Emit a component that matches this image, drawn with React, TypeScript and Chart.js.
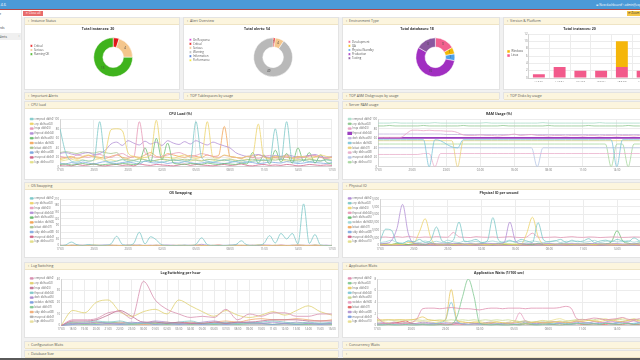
import React, { useEffect, useRef } from "react";
import { Chart, registerables } from "chart.js";

Chart.register(...registerables);
Chart.defaults.font.family = "'Open Sans', 'DejaVu Sans', sans-serif";
Chart.defaults.font.size = 2.8;
Chart.defaults.color = "#666";

// ---------- top row data ----------
const instanceLabels = ["Critical", "Serious", "Running OK"];
const instanceValues = [1, 4, 15];
const alertLabels = ["On Response", "Critical", "Serious", "Warning", "Information", "Performance"];
const alertValues = [0, 1, 4, 49, 0, 0];
const envLabels = ["Development", "QA", "Physical Standby", "Production", "Testing"];
const envValues = [3, 1, 1, 10, 3];
const versionLabels = ["11.2.0.1", "11.2.0.4", "12.1.0.2", "12.2.0.1", "18.0.0.0", "19.0.0.0"];
const versionLinux = [1, 3, 2, 2, 3, 2];
const versionWindows = [0, 0, 0, 0, 7, 0];

// ---------- time axes ----------
const halfHours = [
  "17:00","17:30","18:00","18:30","19:00","19:30","20:00","20:30","21:00","21:30",
  "22:00","22:30","23:00","23:30","00:00","00:30","01:00","01:30","02:00","02:30",
  "03:00","03:30","04:00","04:30","05:00","05:30","06:00","06:30","07:00","07:30",
  "08:00","08:30","09:00","09:30","10:00","10:30","11:00","11:30","12:00","12:30",
  "13:00","13:30","14:00","14:30","15:00","15:30","16:00","16:30","17:00",
];
const hours = [
  "17:00","18:00","19:00","20:00","21:00","22:00","23:00","00:00","01:00","02:00","03:00","04:00",
  "05:00","06:00","07:00","08:00","09:00","10:00","11:00","12:00","13:00","14:00","15:00","16:00",
];
const dbNames = ["crmprod_db(h01)","erp_db(host02)","hrqa_db(h03)","finprod_db(h04)","dwh_db(host05)","webdev_db(h06)","bitest_db(h07)","stby_db(host08)","mesprod_db(h09)","logs_db(host10)"];

// ---------- CPU load ----------
const cpuA = [80,30,12,10,14,12,15,95,14,10,12,15,11,13,10,12,14,11,10,12,15,13,12,14,95,20,12,10,13,15,12,11,14,10,12,13,15,12,80,14,95,12,10,14,11,13,12,15,12];
const cpuB = [15,18,20,16,22,25,20,18,30,78,80,76,30,22,18,20,25,98,24,20,18,22,25,20,18,22,95,20,18,25,22,20,18,22,25,90,20,18,22,20,25,18,20,22,18,20,25,22,20];
const cpuC = [22,20,18,25,22,20,24,26,22,20,25,28,22,20,95,30,24,20,22,25,28,30,26,22,24,28,25,22,20,24,22,20,18,22,20,18,22,24,20,18,22,20,18,20,22,24,20,18,20];
const cpuD = [28,30,27,25,28,30,26,28,35,48,52,45,55,50,46,54,48,52,45,55,50,47,53,48,55,50,46,52,48,44,40,30,25,22,24,26,22,20,24,22,25,23,20,22,24,26,22,20,22];
const cpuE = [5,6,4,5,7,5,6,4,5,6,5,7,6,5,8,40,10,60,15,50,8,6,5,7,6,5,8,6,5,7,6,5,8,6,30,8,25,6,35,10,28,8,40,12,30,8,25,10,6];
const cpuF = [18,20,22,18,20,24,22,20,18,22,25,20,18,22,20,25,30,22,20,28,25,22,20,24,22,20,25,22,24,85,22,20,18,22,20,25,22,18,20,22,20,18,22,20,24,22,20,18,20];
const cpuG = [30,32,30,28,31,30,29,32,30,28,30,18,15,14,16,15,12,14,16,15,13,14,16,15,14,12,15,16,14,13,15,14,12,15,16,14,13,15,14,16,15,13,14,15,16,14,13,15,14];
const cpuH = [8,6,9,7,10,8,6,9,11,8,7,9,10,8,6,12,9,8,10,7,9,8,11,9,7,8,10,9,8,7,9,11,8,10,9,7,8,10,9,8,11,9,7,8,10,9,8,7,9];
const cpuI = [3,4,2,5,3,4,6,3,2,4,5,3,4,2,6,4,3,5,4,3,2,4,6,3,5,4,3,2,4,5,3,4,6,3,2,4,5,3,4,3,5,4,2,3,5,4,3,4,3];
const cpuJ = [12,14,16,13,15,12,14,17,13,15,12,16,14,13,18,15,12,14,16,13,15,17,14,12,15,13,16,14,12,15,17,13,14,16,12,15,13,14,17,15,12,14,16,13,15,14,12,16,14];

// ---------- RAM usage ----------
const ramA = [92,92,92,93,92,92,92,92,92,92,93,92,92,92,92,92,92,92,92,93,92,92,92,92,92,92,92,92,92,93,92,92,92,92,92,92,92,92,92,93,92,92,92,92,92,92,92,92,92];
const ramB = [86,86,87,86,86,86,86,86,87,86,86,86,86,86,86,87,86,86,86,86,86,86,87,86,86,86,86,86,86,86,87,86,86,86,86,86,86,87,86,86,86,86,86,86,87,86,86,86,86];
const ramC = [62,62,62,62,62,70,77,77,76,77,76,76,75,75,72,67,66,66,67,66,66,65,66,67,69,66,67,68,66,66,65,66,66,65,66,66,65,66,66,65,66,66,65,66,66,65,66,66,66];
const ramD = [61,61,61,61,61,61,61,61,61,61,61,61,61,61,61,61,61,61,61,61,61,61,61,61,61,61,61,61,61,61,61,61,61,61,61,61,61,61,61,61,61,61,61,61,61,61,61,61,61];
const ramE = [69,69,69,69,69,69,69,69,69,69,69,69,68,68,68,68,68,68,68,68,68,68,68,68,68,68,68,68,68,68,68,68,68,68,68,68,68,68,68,68,68,68,68,68,68,68,68,68,68];
const ramF = [57,57,57,57,57,57,57,57,57,0,57,55,48,42,40,57,57,57,57,57,57,57,57,57,57,57,57,57,57,57,57,57,57,57,57,57,57,57,57,57,57,57,0,57,57,57,57,57,57];
const ramG = [55,55,55,55,55,55,55,55,55,55,55,55,55,55,0,55,55,55,55,55,55,55,55,55,55,55,55,55,55,55,55,55,55,55,55,55,55,55,55,55,55,55,55,55,55,55,55,55,55];
const ramH = [26,26,26,26,26,26,26,26,28,28,0,28,28,28,28,28,28,28,28,28,28,28,28,28,28,28,28,28,28,28,28,28,28,28,28,28,28,28,28,28,28,28,28,28,28,28,28,28,28];
const ramI = [40,40,40,40,40,40,40,40,40,40,40,40,40,40,40,40,40,40,40,40,40,40,40,40,40,40,40,40,0,40,40,40,40,40,40,40,40,40,40,40,40,40,40,40,40,40,40,40,40];
const ramJ = [48,48,48,48,48,48,48,48,48,48,48,48,48,48,48,48,48,48,48,48,48,48,48,48,48,48,48,48,48,48,48,48,48,48,48,48,48,48,48,48,48,0,48,48,0,48,48,48,48];

// ---------- OS swapping ----------
const osA = [0,3,16,4,1,5,2,1,2,8,42,6,2,10,60,8,40,26,3,1,0,1,2,1,6,35,5,1,0,1,2,4,22,3,1,2,10,45,12,55,30,55,8,188,10,50,3,1,0];
const osB = [1,0,2,1,0,1,3,1,0,2,1,0,1,2,0,1,0,2,1,0,1,2,0,1,3,1,0,1,2,0,1,0,2,1,0,4,1,0,2,1,0,1,3,1,0,2,1,0,1];
const osC = [0,1,0,0,2,0,1,0,0,1,0,0,3,0,1,0,0,2,0,0,1,0,0,2,0,1,0,0,4,0,0,1,0,0,2,0,1,0,0,3,0,0,1,0,2,0,0,1,0];
const osD = [2,1,2,3,1,2,1,2,3,2,1,2,1,3,2,1,2,1,2,3,2,1,2,1,2,6,2,1,2,1,2,3,1,2,1,2,3,2,1,2,1,2,3,2,1,2,1,2,1];
const osE = [0,0,1,0,0,0,1,0,0,0,1,0,0,0,2,0,0,1,0,0,0,0,1,0,0,0,0,1,0,0,0,2,0,0,1,0,0,0,1,0,0,1,0,0,0,2,0,0,0];
const osF = [1,1,0,1,1,0,1,1,0,1,1,0,1,1,0,1,1,0,1,1,0,1,1,0,1,1,0,1,1,0,1,1,0,1,1,0,1,1,0,1,1,0,1,1,0,1,1,0,1];
const osG = [0,0,0,1,0,0,0,0,1,0,0,0,0,0,1,0,0,0,0,0,1,0,0,0,0,0,1,0,0,0,0,0,1,0,0,0,0,0,1,0,0,0,0,1,0,0,0,0,0];
const osH = [0,1,0,0,0,1,0,0,0,1,0,0,0,1,0,0,0,1,0,0,0,1,0,0,0,1,0,0,0,1,0,0,0,1,0,0,0,1,0,0,0,1,0,0,0,1,0,0,0];
const osI = [0,0,0,0,0,0,0,0,0,0,0,0,0,0,0,0,0,0,0,0,0,0,0,0,0,0,0,0,0,0,0,0,0,0,0,0,0,0,0,0,0,0,0,0,0,0,0,0,0];
const osJ = [0,0,1,0,0,0,0,0,0,0,0,0,1,0,0,0,0,0,0,0,0,0,1,0,0,0,0,0,0,0,0,0,1,0,0,0,0,0,0,0,0,0,1,0,0,0,0,0,0];

// ---------- Physical IO ----------
const ioA = [1200,1500,3000,11000,26500,8000,1500,1200,1000,1300,1100,1200,1000,1400,1200,1100,1300,1000,1200,1500,1300,1100,2000,15200,3000,1200,1100,1300,1000,1200,1400,1100,1000,1200,1300,1100,1000,1200,1400,1100,1000,1200,1300,1100,1000,1200,1100,1300,1000];
const ioB = [3000,10600,10000,2000,1500,3000,2500,4000,2000,3500,12000,3000,2000,3500,15200,2500,3000,4000,2000,3000,18000,3500,2000,3000,2500,4000,3000,2000,14800,3500,2500,3000,4000,2000,3500,2500,3000,4500,2000,3000,3500,2500,4000,3000,2500,5000,3000,2500,3000];
const ioC = [500,800,600,1000,700,2000,2000,9000,17300,5000,800,600,1000,700,900,600,800,1000,700,600,900,800,1200,700,600,900,8000,18300,6000,900,700,600,800,1000,700,600,900,800,700,1000,600,800,900,700,600,1000,800,700,900];
const ioD = [5400,5600,5200,5800,5400,6000,5500,5300,5600,5400,5800,5500,5400,8500,5600,5400,5200,5800,5500,5400,5600,5300,5500,5800,5400,5200,5600,8000,5500,5300,5400,5600,5200,5500,5800,5400,5300,5600,5500,5200,5400,5600,5500,5300,5400,5600,5500,5400,5300];
const ioE = [800,1200,600,1500,900,700,1300,1000,600,1800,900,700,1200,600,1500,800,1100,700,1300,900,600,1400,800,1000,700,1200,900,600,1500,800,1000,700,1300,900,600,1100,800,1400,700,1000,1200,2500,9600,3000,1500,1000,1800,900,1200];
const ioF = [2000,2500,3500,2000,1500,3000,2500,2000,3000,2200,2800,2000,3500,2500,2000,3000,2200,2800,2000,2500,3000,2200,2500,3500,2000,2800,2200,3000,2500,2000,2600,3200,2000,2800,2400,3000,2200,2600,3400,2000,2800,3000,2400,2600,3200,2200,2800,2400,2600];
const ioG = [500,700,400,600,800,500,700,600,400,900,600,500,700,400,600,800,500,700,600,400,700,500,600,800,400,600,500,700,600,500,400,700,600,500,800,600,400,700,500,600,700,400,600,500,700,800,500,600,400];
const ioH = [300,400,200,500,300,400,600,300,200,400,500,300,400,200,600,300,400,500,300,200,400,300,500,400,200,300,600,400,300,500,200,400,300,500,400,300,200,400,600,300,400,500,300,200,400,300,500,400,300];
const ioI = [200,100,300,200,100,200,300,100,200,200,100,300,200,100,200,300,200,100,200,300,100,200,200,100,300,200,100,200,300,200,100,200,300,100,200,200,100,300,200,100,200,300,200,100,200,300,100,200,200];
const ioJ = [900,1200,800,1500,1000,700,1100,1300,900,800,1200,1000,700,1400,900,1100,800,1200,1000,900,1300,800,1100,900,1200,1000,800,1400,900,1100,1000,1200,800,900,1300,1000,1100,800,1200,900,1000,1400,1100,800,1200,900,1000,1300,900];

// ---------- Log switching (hourly) ----------
const logA = [0,5,5,6,11,12,6,38,22,14,10,7,8,7,14,5,10,8,11,11,8,8,10,10];
const logB = [0,13,11,20,22,12,8,12,14,10,22,17,12,8,13,9,7,9,12,9,13,17,12,9];
const logC = [0,4,4,5,9,13,8,3,3,2,3,2,2,3,2,3,3,4,5,5,5,4,4,4];
const logD = [0,3,3,4,3,4,2,2,3,2,3,4,2,2,3,2,2,3,4,3,2,3,2,3];
const logE = [0,2,2,3,2,2,3,2,4,3,2,2,3,4,2,3,2,2,3,2,3,2,2,2];
const logF = [0,1,2,1,2,1,2,3,1,2,1,2,1,2,1,2,3,2,1,2,1,2,1,2];
const logG = [0,2,1,2,3,2,1,2,2,1,2,1,2,1,2,1,2,2,1,2,1,1,2,1];
const logH = [0,3,2,3,2,3,2,1,2,3,2,3,2,3,4,3,5,6,5,5,6,5,4,5];
const logI = [0,1,1,1,1,1,1,1,1,1,1,1,1,1,1,1,1,1,1,1,1,1,1,1];
const logJ = [0,2,2,2,1,2,2,2,1,2,2,2,2,1,2,2,2,2,1,2,2,2,1,2];

// ---------- Application waits ----------
const appA = [1.5,0.6,0.4,0.5,0.3,0.4,0.5,1.2,2.9,3.0,3.0,2.9,3.0,3.1,3.0,2.9,2.9,2.8,2.7,2.9,3.0,3.0,2.9,3.0,3.0,3.0,2.9,3.0,3.0,3.0,3.0,3.0,3.1,3.3,3.0,1.2,1.0,1.1,1.3,1.2,1.0,1.1,1.2,1.4,1.1,1.0,1.2,1.1,1.0];
const appB = [0.1,0.1,0.2,0.1,0.1,0.2,0.1,0.1,0.2,0.1,0.1,0.2,0.1,0.2,1.5,5.0,8.0,5.0,0.4,0.2,0.1,0.2,0.1,0.1,0.2,0.1,0.3,0.2,0.1,0.2,0.3,0.2,0.1,0.2,0.3,0.4,0.3,0.2,0.3,0.2,0.4,0.3,0.2,0.3,0.4,0.2,0.3,0.2,0.3];
const appC = [1.0,1.0,1.0,1.0,1.0,1.0,1.0,1.2,1.5,1.0,0.9,0.8,1.0,6.2,1.0,0.6,0.5,0.6,0.5,0.4,0.5,0.6,0.5,0.4,0.6,0.5,0.4,0.5,0.6,0.5,0.5,0.6,0.7,0.5,0.6,0.8,0.7,0.9,0.8,0.7,0.9,1.0,0.8,0.7,0.9,1.0,0.8,0.9,0.8];
const appD = [0.3,0.2,0.3,0.2,0.3,0.2,0.3,0.2,0.3,0.2,0.3,0.5,1.0,4.0,0.8,0.3,0.2,0.3,0.2,0.3,0.2,0.3,0.2,0.3,0.2,0.3,0.4,0.3,0.2,0.3,0.2,0.3,0.4,0.3,0.2,0.3,0.4,0.5,0.4,0.3,0.4,0.3,0.5,0.4,0.3,0.4,0.5,0.4,0.3];
const appE = [0.9,0.9,1.0,0.9,1.0,0.9,1.0,1.0,0.9,1.0,0.9,1.0,0.9,1.0,0.9,1.0,0.9,1.0,0.9,1.0,0.9,1.0,0.9,1.0,0.8,0.7,0.8,0.6,0.7,0.8,0.7,0.6,0.8,0.7,0.9,1.0,1.1,0.9,1.0,1.2,1.0,0.9,1.1,1.0,0.9,1.1,1.0,0.9,1.0];
const appF = [0.2,0.3,0.2,0.3,0.2,0.3,0.2,0.3,0.2,0.3,0.2,0.3,0.2,0.3,0.2,0.3,0.2,0.3,0.2,0.3,0.2,0.3,0.2,0.3,0.5,2.2,0.8,0.5,0.6,0.5,0.6,0.7,0.5,0.6,0.5,0.7,0.6,0.5,0.7,0.6,0.5,0.6,0.7,0.5,0.6,0.8,0.6,0.5,0.6];
const appG = [0.2,0.3,0.2,0.4,0.6,0.8,0.4,0.2,0.3,0.2,0.2,0.3,0.2,0.2,0.3,0.2,0.2,0.3,0.2,0.2,0.3,0.2,0.2,0.3,0.2,0.2,0.3,0.2,0.2,0.3,0.2,0.2,0.3,0.2,0.2,0.3,0.2,0.2,0.3,0.2,0.2,0.3,0.2,0.2,0.3,0.2,0.2,0.3,0.2];
const appH = [0.4,0.5,0.3,0.6,0.4,0.5,0.3,0.4,0.6,0.5,0.4,0.3,0.5,0.4,0.6,0.3,0.5,0.4,0.3,0.5,0.6,0.4,0.3,0.5,0.4,0.6,0.8,0.5,0.4,0.6,0.5,0.7,0.4,0.6,0.5,0.8,0.6,0.4,0.7,0.5,0.6,0.8,0.5,0.7,0.6,0.9,0.5,0.7,0.6];
const appI = [0.2,0.3,0.4,0.2,0.3,0.2,0.4,0.3,0.2,0.3,0.4,0.2,0.3,0.2,0.4,0.3,0.2,0.3,0.4,0.2,0.3,0.2,0.4,0.3,0.2,0.3,0.6,0.4,0.3,0.5,0.4,0.3,0.5,0.4,0.3,0.6,0.4,0.5,0.3,0.4,0.5,0.3,0.4,0.6,0.4,0.3,0.5,0.4,0.3];
const appJ = [0.6,0.7,0.5,0.6,0.7,0.5,0.6,0.8,0.6,0.7,0.5,0.6,0.7,0.5,0.6,0.7,0.5,0.6,0.7,0.5,0.6,0.7,0.5,0.6,0.9,0.7,0.8,0.6,0.7,0.9,0.8,1.0,1.2,0.9,0.8,1.0,0.9,1.1,0.8,1.0,1.2,0.9,1.1,1.3,1.0,1.2,0.9,1.1,1.0];

// ---------- colours ----------
const lineColors = ["#7ec8c8", "#ecd36b", "#e79ab8", "#b38fd6", "#6fbf73", "#f2a65a", "#a9c48f", "#7ea8e0", "#d0668a", "#e3e08c"];
const ioColors = ["#b38fd6", "#7ec8c8", "#ecd36b", "#e79ab8", "#6fbf73", "#9fd8d8", "#f2a65a", "#7ea8e0", "#d0668a", "#e3e08c"];
const ramColors = ["#a8dcc8", "#8fc88f", "#e8a4c4", "#9b3fc0", "#c2b4e0", "#7cc4d8", "#e8d07a", "#eab0cc", "#b8c6e6", "#a8d8a0"];
const logColors = ["#d890b0", "#e0d070", "#c07090", "#80c8c8", "#b090d0", "#80a0e0", "#80c890", "#f0a870", "#b0b0b0", "#e8e0a0"];
const appColors = ["#e090b0", "#80c890", "#e8c860", "#80c8d8", "#c8d890", "#e8a0c0", "#e06060", "#b090d0", "#80a0e0", "#e8e090"];
const instanceColors = ["#e8171a", "#f4c68c", "#3fb31d"];
const alertColors = ["#d63ad6", "#e8171a", "#f4c68c", "#b9b9b9", "#3f6fd6", "#f2e52a"];
const envColors = ["#f2618f", "#f2b705", "#4ea1ea", "#a12fc1", "#8a579f"];

const gridColor = "#ececec";

const sliceLabels = {
  id: "sliceLabels",
  afterDatasetsDraw(chart: any) {
    const ctx = chart.ctx;
    const meta = chart.getDatasetMeta(0);
    const data = chart.data.datasets[0].data;
    ctx.save();
    ctx.font = "3px 'Open Sans', sans-serif";
    ctx.fillStyle = "#444";
    ctx.textAlign = "center";
    ctx.textBaseline = "middle";
    meta.data.forEach((arc: any, i: number) => {
      if (!data[i]) return;
      const p = arc.tooltipPosition();
      ctx.fillText(String(data[i]), p.x, p.y);
    });
    ctx.restore();
  },
};

function doughnutConfig(title: string, labels: string[], values: number[], colors: string[]) {
  return {
    type: "doughnut",
    data: { labels, datasets: [{ data: values, backgroundColor: colors, borderColor: "#fff", borderWidth: 0.5 }] },
    options: {
      responsive: false,
      animation: false,
      cutout: "53%",
      layout: { padding: { left: 3, right: 11, top: 0, bottom: 12 } },
      plugins: {
        legend: { position: "left", labels: { boxWidth: 2.2, boxHeight: 2.2, padding: 1.3, font: { size: 2.8 }, color: "#555" } },
        title: { display: true, text: title, color: "#333", font: { size: 3.5, weight: "bold" }, padding: { top: 3.9, bottom: 6.5 } },
        tooltip: { enabled: false },
      },
    },
    plugins: [sliceLabels],
  };
}

function barConfig() {
  return {
    type: "bar",
    data: {
      labels: versionLabels,
      datasets: [
        { label: "Linux", data: versionLinux, backgroundColor: "#f25a8b" },
        { label: "Windows", data: versionWindows, backgroundColor: "#f5b60a" },
      ],
    },
    options: {
      responsive: false,
      animation: false,
      layout: { padding: { left: 1, right: 4, top: 0, bottom: 4 } },
      datasets: { bar: { barPercentage: 0.7, categoryPercentage: 0.82 } },
      plugins: {
        legend: { position: "left", reverse: true, maxWidth: 18, labels: { boxWidth: 2.5, boxHeight: 2.5, padding: 1.3, font: { size: 2.8 }, color: "#555" } },
        title: { display: true, text: "Total instances: 20", color: "#333", font: { size: 3.5, weight: "bold" }, padding: { top: 3.9, bottom: 2.9 } },
        tooltip: { enabled: false },
      },
      scales: {
        x: { stacked: true, grid: { color: gridColor, drawTicks: false }, ticks: { padding: 1.5, maxRotation: 0, autoSkip: false, color: "#777", font: { size: 2.5 } } },
        y: {
          stacked: true, min: 0, max: 12,
          afterFit: (s: any) => { s.width = 4.5; },
          grid: { color: gridColor, drawTicks: false },
          ticks: { stepSize: 2, padding: 1, color: "#777" },
        },
      },
    },
  };
}

function lineConfig(title: string, labels: string[], series: number[][], colors: string[], yMax: number, yStep: number, every: number, pad: any, yW: number, widths?: number[]) {
  return {
    type: "line",
    data: {
      labels,
      datasets: series.map((d, i) => ({
        label: dbNames[i],
        data: d,
        borderColor: colors[i],
        backgroundColor: colors[i],
        borderWidth: widths ? widths[i] : 0.8,
        pointRadius: 0,
        fill: false,
        cubicInterpolationMode: "monotone",
      })),
    },
    options: {
      responsive: false,
      animation: false,
      layout: { padding: { left: 2, right: 4, top: 0, bottom: pad.bottom } },
      plugins: {
        legend: { position: "left", maxWidth: 26, labels: { boxWidth: 3, boxHeight: 1.5, padding: 2.2, font: { size: 2.6 }, color: "#666" } },
        title: { display: true, text: title, color: "#333", font: { size: 3.5, weight: "bold" }, padding: { top: pad.top, bottom: pad.tb } },
        tooltip: { enabled: false },
      },
      scales: {
        x: {
          grid: { color: gridColor, drawTicks: false },
          ticks: {
            autoSkip: false,
            maxRotation: 0,
            padding: 1.5,
            color: "#777",
            callback: function (this: any, v: any, i: number) {
              return i % every === 0 ? this.getLabelForValue(v) : null;
            },
          },
        },
        y: {
          min: 0, max: yMax,
          afterFit: (s: any) => { s.width = yW; },
          grid: { color: gridColor, drawTicks: false },
          ticks: { stepSize: yStep, padding: 1, color: "#777" },
        },
      },
    },
  };
}

function ChartBox({ x, y, w, h, config }: any) {
  const ref = useRef<HTMLCanvasElement>(null);
  useEffect(() => {
    const chart = new Chart(ref.current as HTMLCanvasElement, config);
    return () => chart.destroy();
  }, []);
  return <canvas ref={ref} width={w} height={h} style={{ position: "absolute", left: x, top: y, width: w, height: h }} />;
}

function Panel({ x, y, w, h, title }: any) {
  return (
    <div style={{ position: "absolute", left: x, top: y, width: w, height: h, background: "#fff", border: "1px solid #e3e3e3", boxSizing: "border-box" }}>
      <div style={{ height: 6, background: "#fcf5de", borderBottom: "1px solid #efe4c4", fontSize: 3.5, lineHeight: "6px", color: "#555", paddingLeft: 3, whiteSpace: "nowrap", overflow: "hidden" }}>
        <span style={{ marginRight: 2 }}>›</span>
        {title}
      </div>
    </div>
  );
}

export default function App() {
  const cpuCfg = lineConfig("CPU Load (%)", halfHours, [cpuA, cpuB, cpuC, cpuD, cpuE, cpuF, cpuG, cpuH, cpuI, cpuJ], lineColors, 100, 20, 6, { top: 4.2, tb: 2.9, bottom: 3.8 }, 6);
  const ramCfg = lineConfig("RAM Usage (%)", halfHours, [ramA, ramB, ramC, ramD, ramE, ramF, ramG, ramH, ramI, ramJ], ramColors, 100, 20, 6, { top: 4.2, tb: 2.9, bottom: 3.8 }, 6, [0.8, 0.8, 0.8, 1.6, 0.8, 0.8, 0.8, 0.8, 0.8, 0.8]);
  const osCfg = lineConfig("OS Swapping", halfHours, [osA, osB, osC, osD, osE, osF, osG, osH, osI, osJ], lineColors, 210, 30, 6, { top: 3.2, tb: 3.6, bottom: 4 }, 6);
  const ioCfg = lineConfig("Physical IO per second", halfHours, [ioA, ioB, ioC, ioD, ioE, ioF, ioG, ioH, ioI, ioJ], ioColors, 30000, 5000, 6, { top: 3.2, tb: 3.6, bottom: 4 }, 8);
  const logCfg = lineConfig("Log Switching per hour", hours, [logA, logB, logC, logD, logE, logF, logG, logH, logI, logJ], logColors, 40, 5, 1, { top: 3.2, tb: 3.6, bottom: 4 }, 7);
  const appCfg = lineConfig("Application Waits (1/100 sec)", halfHours, [appA, appB, appC, appD, appE, appF, appG, appH, appI, appJ], appColors, 8, 1, 6, { top: 3.2, tb: 3.6, bottom: 4 }, 5);

  const small: any = { position: "absolute", fontSize: 3.5, whiteSpace: "nowrap" };

  return (
    <div style={{ position: "fixed", left: 0, top: 0, width: 640, height: 360, overflow: "hidden", background: "#f1f1f1", fontFamily: "'Open Sans', 'DejaVu Sans', sans-serif" }}>
      {/* header */}
      <div style={{ position: "absolute", left: 0, top: 0, width: 640, height: 9, background: "#4b9ad8" }} />
      <div style={{ ...small, left: -33, top: 2, color: "#fff", fontSize: 4 }}>DB Monitor Tools 4.6</div>
      <div style={{ ...small, left: 596, top: 2.5, color: "#fff", fontSize: 3 }}>⊕ New dashboard</div>
      <div style={{ ...small, left: 621, top: 2.5, color: "#fff", fontSize: 3 }}>⚇ admin@expert</div>
      <div style={{ position: "absolute", left: 0, top: 9, width: 640, height: 1, background: "#b34848" }} />
      {/* toolbar */}
      <div style={{ position: "absolute", left: 22, top: 10, width: 618, height: 6.5, background: "#fff" }} />
      <div style={{ position: "absolute", left: 23, top: 10.5, width: 20, height: 5, background: "#e86c6c", color: "#fff", fontSize: 3, lineHeight: "5px", textAlign: "center", whiteSpace: "nowrap", overflow: "hidden" }}>✕ Close all</div>
      <div style={{ position: "absolute", left: 627, top: 10.5, width: 20, height: 5, background: "#f3c647", color: "#333", fontSize: 3, lineHeight: "5px", paddingLeft: 1, whiteSpace: "nowrap" }}>⟳ Zoom</div>
      {/* sidebar */}
      <div style={{ position: "absolute", left: 0, top: 10, width: 22, height: 350, background: "#fff", borderRight: "1px solid #e6e6e6", boxSizing: "border-box", overflow: "hidden" }}>
        <div style={{ position: "absolute", left: 0, top: 22.5, width: 22, height: 7.5, background: "#f0f0f0" }} />
        <div style={{ ...small, right: 20, top: 2, color: "#444", fontSize: 3.2 }}>Home</div>
        <div style={{ ...small, right: 16.5, top: 16, color: "#444", fontSize: 3.2 }}>Dashboards</div>
        <div style={{ ...small, right: 14, top: 24.5, color: "#444", fontSize: 3.2 }}>Alerts</div>
        <div style={{ ...small, left: 18.5, top: 24, color: "#888", fontSize: 3.2 }}>‹</div>
      </div>

      {/* row 1 */}
      <Panel x={24} y={17} w={156} h={73} title="Instance Status" />
      <Panel x={183} y={17} w={156} h={73} title="Alert Overview" />
      <Panel x={342} y={17} w={158} h={73} title="Environment Type" />
      <Panel x={503} y={17} w={158} h={73} title="Version & Platform" />
      <ChartBox x={26} y={23} w={152} h={66} config={doughnutConfig("Total instances: 20", instanceLabels, instanceValues, instanceColors)} />
      <ChartBox x={185} y={23} w={152} h={66} config={doughnutConfig("Total alerts: 54", alertLabels, alertValues, alertColors)} />
      <ChartBox x={344} y={23} w={154} h={66} config={doughnutConfig("Total databases: 18", envLabels, envValues, envColors)} />
      <ChartBox x={505} y={23} w={152} h={65} config={barConfig()} />

      {/* row 2 collapsed */}
      <Panel x={24} y={92} w={156} h={7} title="Important Alerts" />
      <Panel x={183} y={92} w={156} h={7} title="TOP Tablespaces by usage" />
      <Panel x={342} y={92} w={158} h={7} title="TOP ASM Diskgroups by usage" />
      <Panel x={503} y={92} w={158} h={7} title="TOP Disks by usage" />

      {/* row 3 */}
      <Panel x={24} y={101} w={315} h={79} title="CPU load" />
      <Panel x={342} y={101} w={316} h={79} title="Server RAM usage" />
      <ChartBox x={26} y={108} w={311} h={69} config={cpuCfg} />
      <ChartBox x={344} y={108} w={312} h={69} config={ramCfg} />

      {/* row 4 */}
      <Panel x={24} y={182} w={315} h={76} title="OS Swapping" />
      <Panel x={342} y={182} w={316} h={76} title="Physical IO" />
      <ChartBox x={26} y={188} w={311} h={68} config={osCfg} />
      <ChartBox x={344} y={188} w={312} h={68} config={ioCfg} />

      {/* row 5 */}
      <Panel x={24} y={262} w={315} h={76} title="Log Switching" />
      <Panel x={342} y={262} w={316} h={76} title="Application Waits" />
      <ChartBox x={26} y={268} w={311} h={68} config={logCfg} />
      <ChartBox x={344} y={268} w={312} h={68} config={appCfg} />

      {/* rows 6-7 collapsed */}
      <Panel x={24} y={340.5} w={315} h={7} title="Configuration Waits" />
      <Panel x={342} y={340.5} w={316} h={7} title="Concurrency Waits" />
      <Panel x={24} y={350} w={315} h={7} title="Database Size" />
      <Panel x={342} y={350} w={316} h={7} title="" />

      <div style={{ position: "absolute", left: 0, top: 357.5, width: 640, height: 3, background: "#5a5a5a" }} />
    </div>
  );
}
